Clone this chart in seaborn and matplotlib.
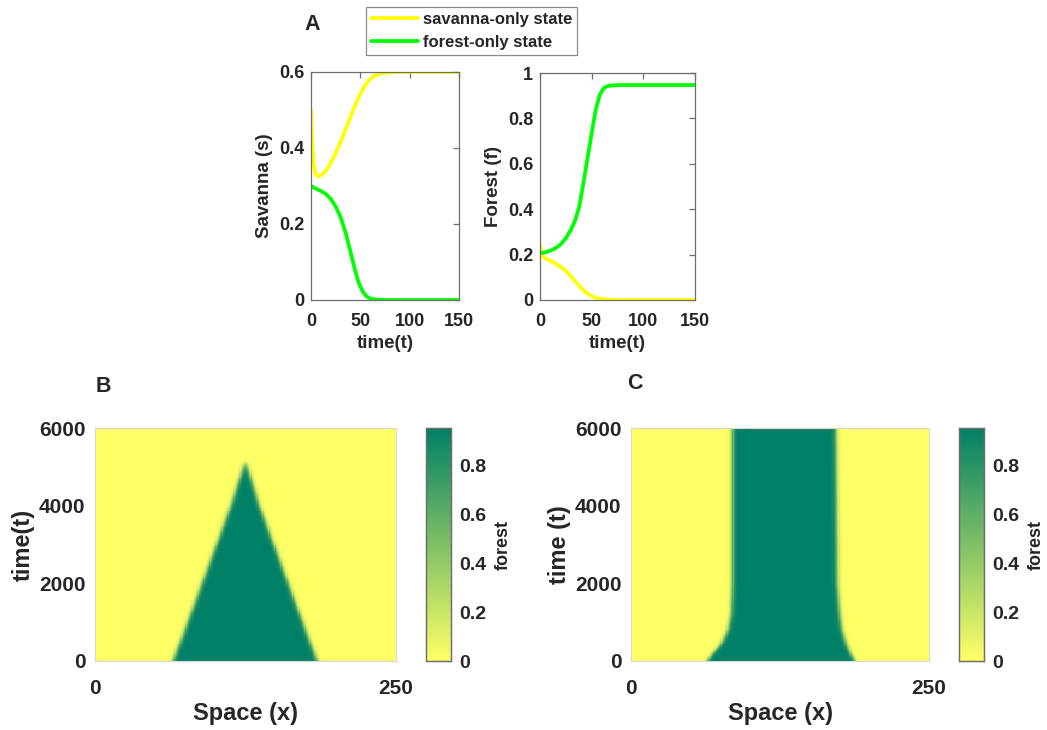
import numpy as np
import pandas as pd
import matplotlib
matplotlib.use("Agg")
import matplotlib.pyplot as plt
import seaborn as sns

# ---------------- data ----------------
# Panel A, left: Savanna (s) over time
t_s_sav = [0, 0.7, 1.5, 2.5, 3.5, 5, 7, 10, 14, 18, 22, 26, 30, 34, 38, 42, 46, 50, 54, 58, 62, 66, 72, 80, 90, 150]
s_sav = [0.50, 0.45, 0.40, 0.36, 0.343, 0.330, 0.325, 0.328, 0.337, 0.352, 0.370, 0.392, 0.416, 0.442,
         0.468, 0.495, 0.520, 0.543, 0.561, 0.576, 0.586, 0.592, 0.597, 0.599, 0.600, 0.600]
t_s_for = [0, 5, 10, 15, 20, 25, 30, 35, 40, 44, 48, 52, 56, 60, 66, 75, 150]
s_for = [0.300, 0.293, 0.287, 0.279, 0.266, 0.246, 0.218, 0.178, 0.127, 0.085, 0.048, 0.024, 0.010,
         0.004, 0.001, 0.0, 0.0]
# Panel A, right: Forest (f) over time
t_f_for = [0, 5, 10, 15, 20, 25, 30, 34, 38, 42, 46, 50, 54, 58, 62, 66, 72, 80, 150]
f_for = [0.206, 0.210, 0.217, 0.228, 0.245, 0.272, 0.310, 0.350, 0.412, 0.515, 0.625, 0.735, 0.840,
         0.905, 0.935, 0.943, 0.946, 0.947, 0.947]
t_f_sav = [0, 1, 2, 4, 8, 12, 16, 20, 24, 28, 32, 36, 40, 44, 48, 52, 56, 60, 70, 80, 150]
f_sav = [0.247, 0.220, 0.198, 0.186, 0.177, 0.168, 0.158, 0.146, 0.132, 0.114, 0.093, 0.072, 0.052,
         0.035, 0.022, 0.013, 0.007, 0.004, 0.001, 0.0, 0.0]

# Panel B: forest front edges (x) vs time
t_B = [0, 1000, 2000, 3000, 4000, 5150]
left_B = [65, 77, 89, 101, 113, 125]
right_B = [184.5, 172.5, 160.5, 148.5, 136.5, 125]
# Panel C: forest front edges (x) vs time
t_C = [0, 200, 400, 800, 1200, 2000, 6000]
left_C = [64, 69, 75, 81.5, 84, 85, 85]
right_C = [188, 184, 181, 177, 175, 173, 172]
forest_max = 0.955

x_ticks = [0, 250]
t_ticks = [0, 2000, 4000, 6000]
cbar_ticks = [0, 0.2, 0.4, 0.6, 0.8]

# ---------------- style ----------------
sns.set_theme(style="white")
plt.rcParams["font.family"] = ["Liberation Sans", "DejaVu Sans"]
plt.rcParams["font.weight"] = "bold"
plt.rcParams["axes.labelweight"] = "bold"
plt.rcParams["text.color"] = "#262626"
plt.rcParams["axes.labelcolor"] = "#262626"
plt.rcParams["xtick.color"] = "#262626"
plt.rcParams["ytick.color"] = "#262626"

W, H = 1047, 730
fig = plt.figure(figsize=(W / 100, H / 100), dpi=100)


def fax(x0, y0, x1, y1):
    return fig.add_axes([x0 / W, 1 - y1 / H, (x1 - x0) / W, (y1 - y0) / H])


YEL = "#FFFF00"
GRN = "#00FF00"
SPINE = "#6e6e6e"


def fmt(v):
    return f"{v:g}"


def style_line_axes(ax, yt):
    for s in ax.spines.values():
        s.set_visible(True)
        s.set_color(SPINE)
        s.set_linewidth(0.9)
    ax.tick_params(direction="in", top=True, right=True, length=4, width=0.9,
                   color=SPINE, labelsize=13)
    ax.tick_params(axis="x", pad=9)
    ax.tick_params(axis="y", pad=5)
    ax.set_xlim(0, 150)
    ax.set_xticks([0, 50, 100, 150])
    ax.set_xticklabels([fmt(v) for v in [0, 50, 100, 150]], fontweight="bold")
    ax.set_yticks(yt)
    ax.set_yticklabels([fmt(v) for v in yt], fontweight="bold")
    ax.set_xlabel("time(t)", fontsize=13.5, fontweight="bold", labelpad=4)


# Panel A left
axA1 = fax(311, 72, 459, 300)
sns.lineplot(x=t_s_sav, y=s_sav, color=YEL, linewidth=2.7, ax=axA1, label="savanna-only state")
sns.lineplot(x=t_s_for, y=s_for, color=GRN, linewidth=2.7, ax=axA1, label="forest-only state")
axA1.set_ylim(0, 0.6)
style_line_axes(axA1, [0, 0.2, 0.4, 0.6])
axA1.set_ylabel("Savanna (s)", fontsize=13.5, fontweight="bold", labelpad=4)
handles, labels = axA1.get_legend_handles_labels()
axA1.get_legend().remove()

# Panel A right
axA2 = fax(540, 73, 695, 300)
sns.lineplot(x=t_f_sav, y=f_sav, color=YEL, linewidth=2.7, ax=axA2)
sns.lineplot(x=t_f_for, y=f_for, color=GRN, linewidth=2.7, ax=axA2)
axA2.set_ylim(0, 1)
style_line_axes(axA2, [0, 0.2, 0.4, 0.6, 0.8, 1])
axA2.set_ylabel("Forest (f)", fontsize=13.5, fontweight="bold", labelpad=4)

leg = fig.legend(handles, labels, loc="upper left", bbox_to_anchor=(366 / W, 1 - 7 / H),
                 prop={"weight": "bold", "size": 12}, frameon=True, fancybox=False,
                 handlelength=2.8, handletextpad=0.3, borderpad=0.3, labelspacing=0.45,
                 borderaxespad=0)
leg.get_frame().set_edgecolor(SPINE)
leg.get_frame().set_linewidth(0.9)
for ln in leg.get_lines():
    ln.set_linewidth(2.7)

fig.text(312 / W, 1 - 24 / H, "A", fontsize=15.5, fontweight="bold", ha="center", va="center")
fig.text(103 / W, 1 - 386 / H, "B", fontsize=15.5, fontweight="bold", ha="center", va="center")
fig.text(635 / W, 1 - 384 / H, "C", fontsize=15.5, fontweight="bold", ha="center", va="center")

# ---------------- heatmaps ----------------
nx, nt = 250, 240
xc = np.arange(nx) + 0.5
tc = (np.arange(nt) + 0.5) * (6000 / nt)
width = 2.3


def field(tp, lp, rp, tmax):
    L = np.interp(tc, tp, lp)
    R = np.interp(tc, tp, rp)
    F = 0.5 * (np.tanh((xc[None, :] - L[:, None]) / width) - np.tanh((xc[None, :] - R[:, None]) / width))
    F = np.clip(F, 0, None)
    F[tc > tmax, :] = 0
    return forest_max * F


FB = field(t_B, left_B, right_B, t_B[-1])
FC = field(t_C, left_C, right_C, 1e9)


def draw_heat(F, box, cbox, ylabel):
    ax = fax(*box)
    cax = fax(*cbox)
    df = pd.DataFrame(F, index=tc, columns=xc)
    sns.heatmap(df, ax=ax, cbar_ax=cax, cmap="summer_r", vmin=0, vmax=forest_max,
                xticklabels=False, yticklabels=False, rasterized=True)
    ax.set_ylim(0, nt)
    ax.set_xlim(0, nx)
    ax.set_xticks([v for v in x_ticks])
    ax.set_xticklabels([str(v) for v in x_ticks], fontsize=15, fontweight="bold", rotation=0)
    ax.set_yticks([v / (6000 / nt) for v in t_ticks])
    ax.set_yticklabels([str(v) for v in t_ticks], fontsize=15, fontweight="bold", rotation=0)
    ax.tick_params(length=0)
    ax.tick_params(axis="x", pad=13)
    ax.tick_params(axis="y", pad=7)
    for s in ax.spines.values():
        s.set_visible(True)
        s.set_color("#d8d8d8")
        s.set_linewidth(0.8)
    ax.set_xlabel("Space (x)", fontsize=17, fontweight="bold", labelpad=3)
    ax.set_ylabel(ylabel, fontsize=17, fontweight="bold", labelpad=3)
    cax.set_yticks(cbar_ticks)
    cax.set_yticklabels([fmt(v) for v in cbar_ticks], fontsize=14, fontweight="bold")
    cax.tick_params(axis="y", direction="in", length=3, width=0.9, color=SPINE, pad=6, right=True)
    cax.set_ylabel("forest", fontsize=13, fontweight="bold", labelpad=6)
    cax.yaxis.set_label_position("right")
    for s in cax.spines.values():
        s.set_visible(True)
        s.set_color(SPINE)
        s.set_linewidth(0.9)
    return ax


draw_heat(FB, (95, 428, 396, 661), (426, 428, 451, 661), "time(t)")
draw_heat(FC, (631, 428, 929, 661), (959, 428, 984, 661), "time (t)")

fig.savefig("out.png", dpi=100)
